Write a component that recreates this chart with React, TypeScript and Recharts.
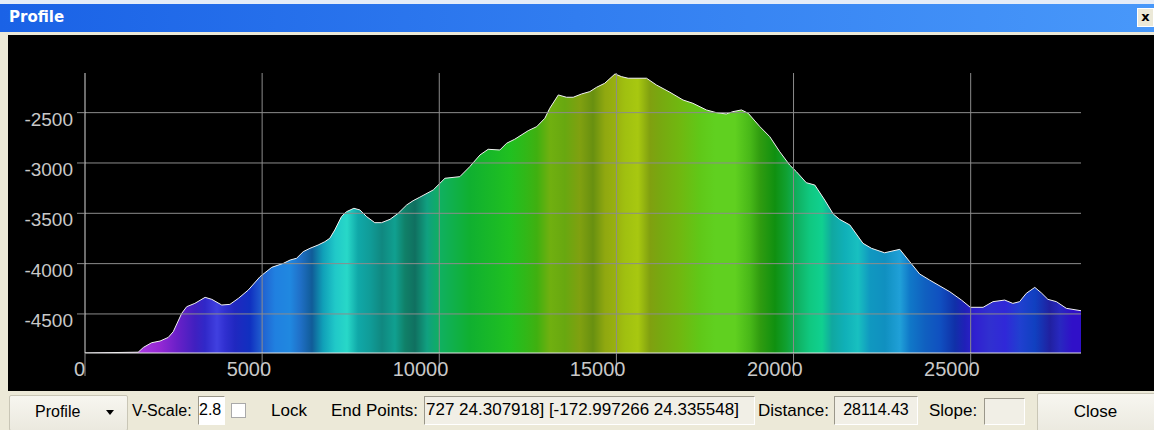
import React from 'react';
import { AreaChart, Area, XAxis, YAxis, ReferenceLine } from 'recharts';

// ---- data ----
const distances = [
  0, 1500, 1650, 1880, 2120, 2350, 2490, 2730, 2870, 3100, 3390, 3580, 3860, 4090, 4330, 4610,
  4940, 5270, 5600, 5790, 5970, 6160, 6350, 6580, 6770, 6910, 7050, 7240, 7380, 7590, 7760, 7950,
  8180, 8370, 8610, 8840, 9080, 9260, 9450, 9830, 10160, 10580, 10860, 11150, 11380, 11710, 11900,
  12130, 12510, 12750, 12980, 13120, 13360, 13590, 13780, 14020, 14250, 14440, 14670, 14960, 15140,
  15330, 15850, 16130, 16510, 16880, 17160, 17540, 17820, 18100, 18290, 18530, 18720, 19050, 19330,
  19610, 19890, 20080, 20360, 20600, 20880, 21120, 21300, 21590, 21960, 22200, 22570, 23000, 23280,
  23560, 23840, 24410, 24740, 24990, 25350, 25630, 25960, 26190, 26380, 26570, 26810, 26990, 27180,
  27420, 27700, 28114,
];
const elevations = [
  -4888, -4880, -4832, -4786, -4769, -4733, -4677, -4494, -4428, -4395, -4335, -4355, -4411, -4405, -4345, -4262,
  -4130, -4037, -3997, -3964, -3947, -3881, -3848, -3815, -3782, -3748, -3666, -3533, -3484, -3450, -3467, -3533,
  -3593, -3593, -3560, -3500, -3417, -3375, -3340, -3268, -3152, -3136, -3037, -2920, -2864, -2871, -2804,
  -2764, -2679, -2639, -2556, -2456, -2324, -2347, -2347, -2314, -2291, -2248, -2208, -2115, -2142,
  -2158, -2158, -2225, -2297, -2374, -2407, -2473, -2500, -2513, -2490, -2473, -2506, -2639, -2739,
  -2888, -3020, -3086, -3196, -3219, -3368, -3507, -3560, -3616, -3798, -3848, -3892, -3858, -3981,
  -4103, -4163, -4279, -4362, -4434, -4434, -4378, -4362, -4395, -4378, -4295, -4236, -4289, -4355,
  -4378, -4444, -4468,
];
const xTicks = [0, 5000, 10000, 15000, 20000, 25000];
const yTicks = [-4500, -4000, -3500, -3000, -2500];
const xDomain = [0, 28114];
const yDomain = [-4888, -2106];

// toolbar texts
const endPointsText = '727 24.307918] [-172.997266 24.335548]';
const distanceText = '28114.43';
const vScaleText = '2.8';

const data = distances.map((d, i) => ({ dist: d, elev: elevations[i] }));

// ---- styles ----
const stripeStops: [number, string][] = [
  [0, '#9a30d0'], [0.0552, '#a838e0'], [0.0753, '#9428d4'], [0.0924, '#6a20c8'], [0.1104, '#4020c0'],
  [0.1205, '#3028c8'], [0.1325, '#4040e0'], [0.1406, '#3030d0'], [0.1506, '#2028c0'], [0.1657, '#1030c0'],
  [0.1777, '#2060d0'], [0.1908, '#2080e0'], [0.2058, '#2088e0'], [0.2159, '#2070c8'], [0.2279, '#105c98'],
  [0.239, '#10a0b8'], [0.251, '#20c8c8'], [0.2631, '#28d8c8'], [0.2741, '#10a8a8'], [0.2861, '#109c98'],
  [0.2982, '#108880'], [0.3112, '#10a090'], [0.3213, '#108068'], [0.3313, '#107060'], [0.3434, '#10a080'],
  [0.3564, '#10b060'], [0.3715, '#10b048'], [0.3865, '#10b030'], [0.4066, '#18b828'], [0.4267, '#20c020'],
  [0.4418, '#30b818'], [0.4538, '#40b010'], [0.4669, '#70b010'], [0.4819, '#68a810'], [0.497, '#80a010'],
  [0.51, '#689010'], [0.5221, '#90a810'], [0.5321, '#98b010'], [0.5422, '#a0c010'], [0.5552, '#a8c810'],
  [0.5673, '#80a010'], [0.5773, '#78a810'], [0.5974, '#70b810'], [0.6175, '#60c818'], [0.6325, '#60d020'],
  [0.6526, '#60d020'], [0.6677, '#48b818'], [0.6777, '#309c10'], [0.6928, '#109010'], [0.7038, '#10a030'],
  [0.7149, '#10b060'], [0.7279, '#10c880'], [0.74, '#10d090'], [0.75, '#10a8a0'], [0.7631, '#10b0b8'],
  [0.7761, '#18c0c0'], [0.7882, '#1098c0'], [0.8032, '#1090c0'], [0.8183, '#20a0d8'], [0.8283, '#1078c8'],
  [0.8434, '#1060c0'], [0.8584, '#1050c0'], [0.8735, '#1030a8'], [0.8835, '#2020b8'], [0.8936, '#3020d0'],
  [0.9086, '#3030d0'], [0.9237, '#3028d8'], [0.9388, '#2040d0'], [0.9538, '#1040c0'], [0.9689, '#2020a0'],
  [0.9789, '#2828c0'], [0.991, '#3010c8'], [1, '#3010c8'],
];

const FONT = "'Liberation Sans', Arial, sans-serif";
const labelColor = '#c8c8c8';
const gridColor = '#8c8c8c';
const beige = '#ece9d8';

const XTick = (props: any) => {
  const { x, y, payload } = props;
  const shift = payload.value === 0 ? 0 : 9;
  return (
    <text x={x + shift} y={y} textAnchor="end" fill={labelColor} fontSize={20} fontFamily={FONT}>
      {payload.value}
    </text>
  );
};

const YTick = (props: any) => {
  const { x, y, payload } = props;
  return (
    <text x={x} y={y + 13} textAnchor="end" fill={labelColor} fontSize={19} fontFamily={FONT}>
      {payload.value}
    </text>
  );
};

const txt = (left: number, text: string, extra: React.CSSProperties = {}) => (
  <div
    style={{
      position: 'absolute',
      left,
      top: 401,
      height: 20,
      lineHeight: '20px',
      fontSize: 17,
      fontFamily: FONT,
      color: '#000',
      whiteSpace: 'nowrap',
      ...extra,
    }}
  >
    {text}
  </div>
);

const sunken: React.CSSProperties = {
  position: 'absolute',
  boxSizing: 'border-box',
  borderTop: '1px solid #9a978a',
  borderLeft: '1px solid #9a978a',
  borderBottom: '1px solid #ffffff',
  borderRight: '1px solid #ffffff',
  overflow: 'hidden',
  whiteSpace: 'nowrap',
  fontFamily: FONT,
  color: '#000',
};

const button: React.CSSProperties = {
  position: 'absolute',
  boxSizing: 'border-box',
  background: 'linear-gradient(#f7f6f0, #ebe9df)',
  border: '1px solid #c9c6b6',
  borderRadius: 2,
  fontFamily: FONT,
  fontSize: 16,
  color: '#000',
};

export default function App() {
  return (
    <div
      style={{
        position: 'absolute',
        left: 0,
        top: 0,
        width: 1154,
        height: 430,
        overflow: 'hidden',
        background: beige,
      }}
    >
      {/* title bar */}
      <div style={{ position: 'absolute', left: 0, top: 0, width: 1154, height: 4, background: '#e4ecf8' }} />
      <div
        style={{
          position: 'absolute',
          left: 0,
          top: 4,
          width: 1154,
          height: 28,
          background: 'linear-gradient(to right, #1a62e6, #4898fa)',
        }}
      />
      <div
        style={{
          position: 'absolute',
          left: 9,
          top: 6,
          height: 22,
          lineHeight: '22px',
          fontFamily: "'DejaVu Sans', Verdana, sans-serif",
          fontWeight: 'bold',
          fontSize: 15,
          color: '#ffffff',
        }}
      >
        Profile
      </div>
      <div
        style={{
          position: 'absolute',
          left: 1137,
          top: 8,
          width: 17,
          height: 19,
          background: beige,
          boxSizing: 'border-box',
          border: '1px solid #ffffff',
          textAlign: 'center',
          lineHeight: '16px',
          fontFamily: "'DejaVu Sans', sans-serif",
          fontWeight: 'bold',
          fontSize: 13,
          color: '#000',
        }}
      >
        x
      </div>

      {/* black plot panel */}
      <div style={{ position: 'absolute', left: 8, top: 35, width: 1146, height: 356, background: '#000' }} />

      <AreaChart
        width={1154}
        height={430}
        data={data}
        margin={{ top: 73, right: 73, bottom: 47, left: 0 }}
        style={{ position: 'absolute', left: 0, top: 0 }}
      >
        <defs>
          <linearGradient id="profileFill" x1="0" y1="0" x2="1" y2="0">
            {stripeStops.map(([o, c], i) => (
              <stop key={i} offset={o} stopColor={c} />
            ))}
          </linearGradient>
        </defs>
        <XAxis
          dataKey="dist"
          type="number"
          domain={xDomain}
          ticks={xTicks}
          interval={0}
          allowDataOverflow
          height={30}
          tickSize={23}
          tickMargin={0}
          axisLine={{ stroke: '#e6e6e6' }}
          tickLine={{ stroke: gridColor }}
          tick={(p: any) => <XTick {...p} />}
        />
        <YAxis
          type="number"
          domain={yDomain}
          ticks={yTicks}
          interval={0}
          allowDataOverflow
          width={85}
          tickSize={8}
          tickMargin={4}
          axisLine={{ stroke: '#d8d8d8' }}
          tickLine={{ stroke: gridColor }}
          tick={(p: any) => <YTick {...p} />}
        />
        <Area
          type="linear"
          dataKey="elev"
          baseValue="dataMin"
          stroke="#f2f2f2"
          strokeWidth={1}
          fill="url(#profileFill)"
          fillOpacity={1}
          dot={false}
          activeDot={false}
          isAnimationActive={false}
        />
        {xTicks
          .filter((v) => v > 0)
          .map((v) => (
            <ReferenceLine key={'x' + v} x={v} stroke={gridColor} strokeWidth={1} />
          ))}
        {yTicks.map((v) => (
          <ReferenceLine key={'y' + v} y={v} stroke={gridColor} strokeWidth={1} />
        ))}
      </AreaChart>

      {/* toolbar */}
      <div style={{ ...button, left: 9, top: 395, width: 119, height: 36 }}>
        <div style={{ position: 'absolute', left: 25, top: 6, lineHeight: '20px' }}>Profile</div>
        <div
          style={{
            position: 'absolute',
            left: 96,
            top: 14,
            width: 0,
            height: 0,
            borderLeft: '4px solid transparent',
            borderRight: '4px solid transparent',
            borderTop: '5px solid #000',
          }}
        />
      </div>
      {txt(132, 'V-Scale:', { fontSize: 16 })}
      <div style={{ ...sunken, left: 198, top: 396, width: 27, height: 29, background: '#fff', textAlign: 'right', paddingRight: 3, lineHeight: '26px', fontSize: 16 }}>
        {vScaleText}
      </div>
      <div
        style={{
          position: 'absolute',
          left: 231,
          top: 403,
          width: 15,
          height: 15,
          boxSizing: 'border-box',
          background: '#fff',
          border: '1px solid #a9a9a9',
        }}
      />
      {txt(271, 'Lock')}
      {txt(331, 'End Points:')}
      <div style={{ ...sunken, left: 424, top: 396, width: 331, height: 29, background: '#f1efe6', paddingLeft: 1, lineHeight: '26px', fontSize: 17 }}>
        {endPointsText}
      </div>
      {txt(758, 'Distance:')}
      <div style={{ ...sunken, left: 834, top: 396, width: 84, height: 29, background: '#f1efe6', textAlign: 'center', lineHeight: '26px', fontSize: 16 }}>
        {distanceText}
      </div>
      {txt(929, 'Slope:')}
      <div style={{ ...sunken, left: 984, top: 398, width: 41, height: 27, background: '#f1efe6' }} />
      <div style={{ ...button, left: 1037, top: 393, width: 120, height: 40, textAlign: 'center', lineHeight: '36px', paddingRight: 3, fontSize: 17 }}>
        Close
      </div>
    </div>
  );
}
